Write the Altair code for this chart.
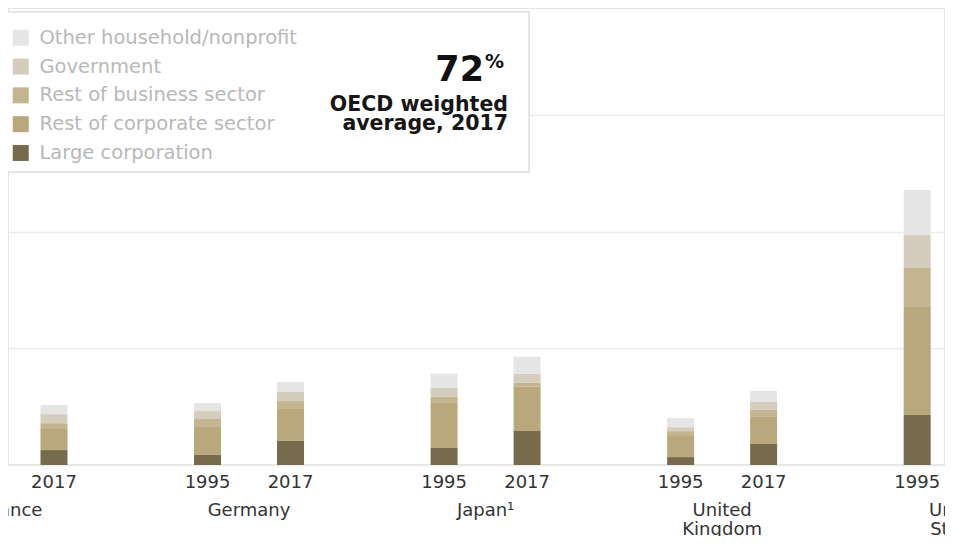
import altair as alt
import pandas as pd

# ---- data (units: gridline step = 50) ----
sectors = ["Other household/nonprofit", "Government", "Rest of business sector",
           "Rest of corporate sector", "Large corporation"]
colors = ["#e5e5e5", "#d4ccbc", "#c3b590", "#b9a87c", "#766b4c"]

countries = ["France", "Germany", "Japan¹", "United\nKingdom", "United\nStates"]
bar_country = [0, 1, 1, 2, 2, 3, 3, 4]
bar_year = ["2017", "1995", "2017", "1995", "2017", "1995", "2017", "1995"]

large = [6.4, 4.3, 10.3, 7.3, 14.6, 3.4, 9.0, 21.4]
rest_corp = [9.4, 12.0, 13.7, 19.3, 18.9, 9.4, 11.6, 46.3]
rest_bus = [2.1, 3.4, 3.4, 2.6, 1.7, 1.7, 3.0, 16.7]
government = [3.9, 3.4, 3.9, 3.9, 3.9, 1.7, 3.4, 14.1]
other = [3.9, 3.4, 4.3, 6.0, 7.3, 3.9, 4.7, 19.3]

GROUP = 2.85  # spacing between country groups (in year-slot units)

series = {
    "Large corporation": large,
    "Rest of corporate sector": rest_corp,
    "Rest of business sector": rest_bus,
    "Government": government,
    "Other household/nonprofit": other,
}

rows = []
for k, (name, vals) in enumerate(series.items()):
    for i, v in enumerate(vals):
        yi = 0 if bar_year[i] == "1995" else 1
        rows.append({"pos": bar_country[i] * GROUP + yi, "sector": name,
                     "value": v, "k": k})
df = pd.DataFrame(rows)

df_years = pd.DataFrame({
    "pos": [c * GROUP + (0 if y == "1995" else 1) for c, y in zip(bar_country, bar_year)],
    "year": bar_year,
})
df_countries = pd.DataFrame({
    "pos": [i * GROUP + 0.5 for i in range(len(countries))],
    "country": countries,
})

FONT = "DejaVu Sans"
W = 937
UNIT = 83.0
X0 = 0.446
xscale = alt.Scale(domain=[X0, X0 + W / UNIT], nice=False, zero=False, padding=0)

bars = alt.Chart(df).mark_bar(size=27).encode(
    x=alt.X("pos:Q", scale=xscale, axis=None),
    y=alt.Y("value:Q", stack="zero",
            scale=alt.Scale(domain=[0, 195.8], nice=False, padding=0),
            axis=alt.Axis(values=[0, 50, 100, 150], labels=False, ticks=False,
                          domain=False, grid=True, gridColor="#ebebeb",
                          gridWidth=1.5, title=None)),
    color=alt.Color("sector:N",
                    scale=alt.Scale(domain=sectors, range=colors),
                    legend=alt.Legend(title=None, orient="none", legendX=3,
                                      legendY=20, symbolType="square",
                                      symbolSize=256, symbolStrokeWidth=0,
                                      labelFont=FONT, labelFontSize=19.5,
                                      labelColor="#b8b8b8", labelOffset=9,
                                      labelLimit=400,
                                      rowPadding=7.8, padding=0)),
    order=alt.Order("k:Q", sort="ascending"),
)

years = alt.Chart(df_years).mark_text(
    font=FONT, fontSize=18, color="#333333", baseline="alphabetic", align="center"
).encode(x=alt.X("pos:Q", scale=xscale, axis=None), y=alt.value(480), text="year:N")

ctry = alt.Chart(df_countries).mark_text(
    font=FONT, fontSize=18, color="#333333", baseline="alphabetic", align="center",
    lineBreak="\n", lineHeight=19
).encode(x=alt.X("pos:Q", scale=xscale, axis=None), y=alt.value(508), text="country:N")

box = alt.Chart(df_countries).mark_rect(
    fill="white", stroke="#e2e2e2", strokeWidth=1.5
).encode(x=alt.value(-5), x2=alt.value(521), y=alt.value(4), y2=alt.value(164))

ann_df = pd.DataFrame({"t": ["72", "%", "OECD weighted", "average, 2017"]})
big = alt.Chart(ann_df).transform_filter(alt.datum.t == "72").mark_text(
    font=FONT, fontSize=35, fontWeight="bold", color="#111111", align="right",
    baseline="alphabetic").encode(x=alt.value(476), y=alt.value(73), text="t:N")
pct = alt.Chart(ann_df).transform_filter(alt.datum.t == "%").mark_text(
    font=FONT, fontSize=19, fontWeight="bold", color="#111111", align="left",
    baseline="alphabetic").encode(x=alt.value(477), y=alt.value(60), text="t:N")
sub1 = alt.Chart(ann_df).transform_filter(alt.datum.t == "OECD weighted").mark_text(
    font=FONT, fontSize=20.5, fontWeight="bold", color="#161616", align="right",
    baseline="alphabetic").encode(x=alt.value(500), y=alt.value(103), text="t:N")
sub2 = alt.Chart(ann_df).transform_filter(alt.datum.t == "average, 2017").mark_text(
    font=FONT, fontSize=20.5, fontWeight="bold", color="#161616", align="right",
    baseline="alphabetic").encode(x=alt.value(500), y=alt.value(122), text="t:N")

chart = alt.layer(bars, years, ctry, box, big, pct, sub1, sub2).properties(
    width=W, height=457,
    autosize=alt.AutoSizeParams(type="none"),
    padding={"left": 0, "top": 0, "right": 0, "bottom": 71},
    background="white",
).configure_view(stroke="#e4e4e0", strokeWidth=2)

chart.save("out.html", embed_options={"renderer": "svg", "actions": False})
